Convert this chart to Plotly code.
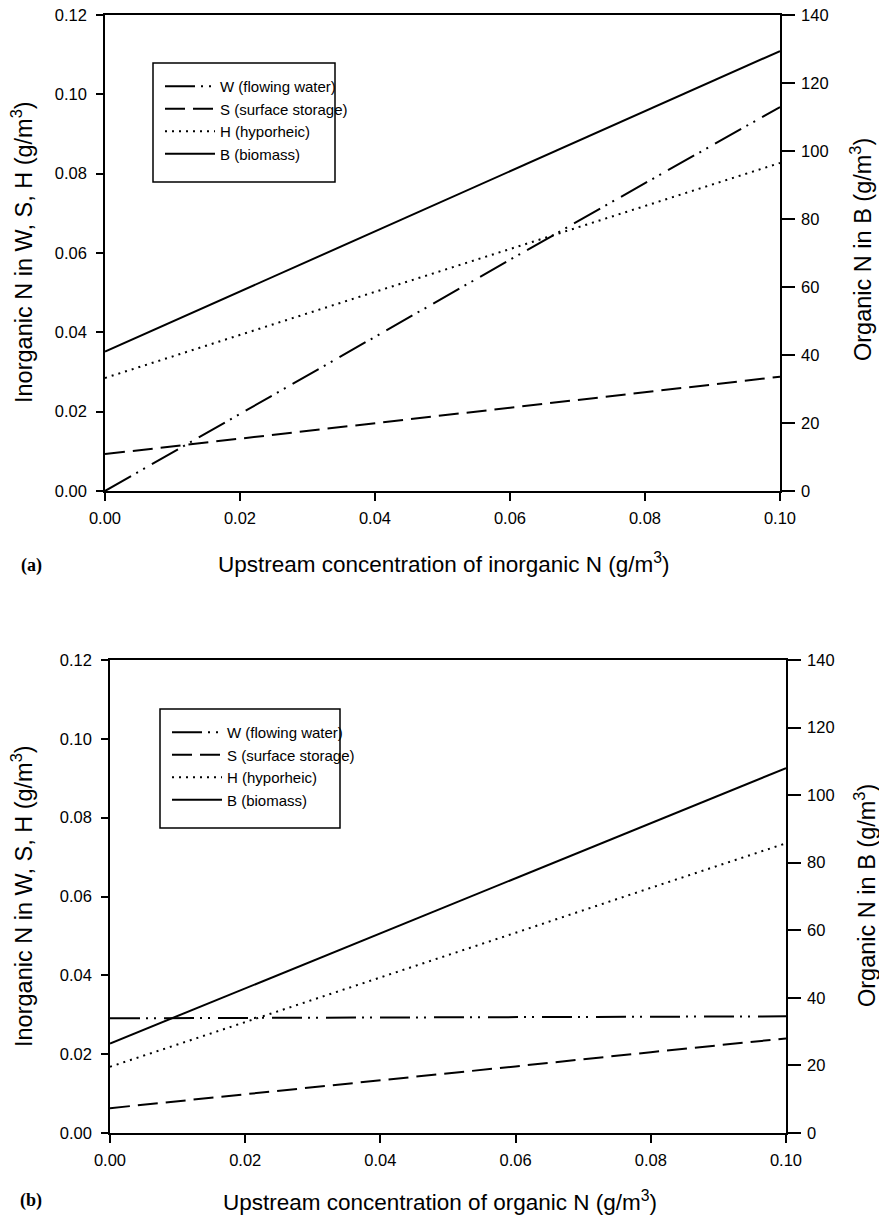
import plotly.graph_objects as go

W_PX, H_PX = 879, 1217

# ---------------- data ----------------
x_up = [0.00, 0.02, 0.04, 0.06, 0.08, 0.10]

# panel (a): upstream inorganic N
W_a = [0.0, 0.0195, 0.0390, 0.0583, 0.0776, 0.0968]
S_a = [0.0093, 0.0132, 0.0171, 0.0210, 0.0249, 0.0288]
H_a = [0.0285, 0.0394, 0.0502, 0.0610, 0.0718, 0.0827]
B_a = [41.0, 58.7, 76.3, 94.0, 111.7, 129.4]

# panel (b): upstream organic N
W_b = [0.0291, 0.0292, 0.0293, 0.0294, 0.0295, 0.0296]
S_b = [0.0063, 0.0098, 0.0134, 0.0169, 0.0205, 0.0240]
H_b = [0.0168, 0.0281, 0.0395, 0.0508, 0.0622, 0.0735]
B_b = [26.5, 42.8, 59.1, 75.4, 91.7, 108.0]

names = ["W (flowing water)", "S (surface storage)", "H (hyporheic)", "B (biomass)"]
left_ticks = [0.00, 0.02, 0.04, 0.06, 0.08, 0.10, 0.12]
right_ticks = [0, 20, 40, 60, 80, 100, 120, 140]
x_ticks = [0.00, 0.02, 0.04, 0.06, 0.08, 0.10]

FONT = "Liberation Sans, Arial, sans-serif"
dashes = ["30px,6px,2px,6px,2px,8px", "20px,8px", "2px,5px", "solid"]


def px_x(p):
    return p / W_PX


def px_y(p):
    return 1 - p / H_PX


fig = go.Figure()

panels = [
    dict(W=W_a, S=S_a, H=H_a, B=B_a, x="x", y="y", y2="y2", legend="legend"),
    dict(W=W_b, S=S_b, H=H_b, B=B_b, x="x2", y="y3", y2="y4", legend="legend2"),
]

for p in panels:
    series = [p["W"], p["S"], p["H"]]
    for name, vals, dash in zip(names[:3], series, dashes[:3]):
        fig.add_trace(go.Scatter(
            x=x_up, y=vals, name=name, mode="lines",
            line=dict(color="black", width=2, dash=dash),
            xaxis=p["x"], yaxis=p["y"], legend=p["legend"],
        ))
    fig.add_trace(go.Scatter(
        x=x_up, y=p["B"], name=names[3], mode="lines",
        line=dict(color="black", width=2, dash=dashes[3]),
        xaxis=p["x"], yaxis=p["y2"], legend=p["legend"],
    ))

tickfont = dict(family=FONT, size=16.5, color="black")

common_x = dict(range=[0, 0.1], tickvals=x_ticks, tickformat=".2f", ticks="outside",
                ticklen=8, tickwidth=1.5, tickcolor="black", showline=True,
                linecolor="black", linewidth=1.5, mirror=True, showgrid=False,
                zeroline=False, tickfont=tickfont, automargin=False,
                ticklabelstandoff=3)
common_yl = dict(range=[0, 0.12], tickvals=left_ticks, tickformat=".2f", ticks="outside",
                 ticklen=7, tickwidth=1.5, tickcolor="black", showline=True,
                 linecolor="black", linewidth=1.5, showgrid=False, zeroline=False,
                 tickfont=tickfont, automargin=False, ticklabelstandoff=6)
common_yr = dict(range=[0, 140], tickvals=right_ticks, ticks="outside",
                 ticklen=13, tickwidth=1.5, tickcolor="black", showline=True,
                 linecolor="black", linewidth=1.5, showgrid=False, zeroline=False,
                 tickfont=tickfont, side="right", automargin=False,
                 ticklabelstandoff=3)

fig.update_layout(
    width=W_PX, height=H_PX,
    margin=dict(l=0, r=0, t=0, b=0, autoexpand=False),
    paper_bgcolor="white", plot_bgcolor="white",
    font=dict(family=FONT, color="black"),
    xaxis=dict(domain=[px_x(105), px_x(780)], anchor="y", **common_x),
    yaxis=dict(domain=[px_y(491), px_y(15)], anchor="x", **common_yl),
    yaxis2=dict(overlaying="y", anchor="x", **common_yr),
    xaxis2=dict(domain=[px_x(110), px_x(786)], anchor="y3", **common_x),
    yaxis3=dict(domain=[px_y(1133), px_y(660)], anchor="x2", **common_yl),
    yaxis4=dict(overlaying="y3", anchor="x2", **common_yr),
    legend=dict(x=px_x(160), y=px_y(70), xanchor="left", yanchor="top",
                bgcolor="rgba(0,0,0,0)", borderwidth=0, itemwidth=50,
                font=dict(family=FONT, size=15, color="black"), tracegroupgap=0),
    legend2=dict(x=px_x(167), y=px_y(716), xanchor="left", yanchor="top",
                 bgcolor="rgba(0,0,0,0)", borderwidth=0, itemwidth=50,
                 font=dict(family=FONT, size=15, color="black"), tracegroupgap=0),
    showlegend=True,
)

# legend frames
for (x0, y0, x1, y1) in [(153, 63, 335, 182), (160, 709, 340, 828)]:
    fig.add_shape(type="rect", xref="paper", yref="paper",
                  x0=px_x(x0), x1=px_x(x1), y0=px_y(y1), y1=px_y(y0),
                  line=dict(color="black", width=1.5), fillcolor="rgba(0,0,0,0)",
                  layer="above")

unit = " (g/m<sup>3</sup>)"
annots = [
    ("Upstream concentration of inorganic N" + unit, 443, 563, 0, 22.5),
    ("Inorganic N in W, S, H" + unit, 22, 252, -90, 23.5),
    ("Organic N in B" + unit, 861, 250, -90, 23.5),
    ("Upstream concentration of organic N" + unit, 440, 1201, 0, 22.5),
    ("Inorganic N in W, S, H" + unit, 22, 896, -90, 23.5),
    ("Organic N in B" + unit, 865, 896, -90, 23.5),
]
for text, ax, ay, ang, fs in annots:
    fig.add_annotation(text=text, x=px_x(ax), y=px_y(ay), xref="paper", yref="paper",
                       xanchor="center", yanchor="middle", showarrow=False,
                       textangle=ang, font=dict(family=FONT, size=fs, color="black"))

for text, ax, ay in [("<b>(a)</b>", 31, 565), ("<b>(b)</b>", 31, 1200)]:
    fig.add_annotation(text=text, x=px_x(ax), y=px_y(ay), xref="paper", yref="paper",
                       xanchor="center", yanchor="middle", showarrow=False,
                       font=dict(family="Liberation Serif, Times New Roman, serif",
                                 size=18, color="black"))

fig.write_html("out.html",
               config={"displayModeBar": False},
               post_script="document.body.style.margin='0px';"
                           "document.body.style.overflow='hidden';")
